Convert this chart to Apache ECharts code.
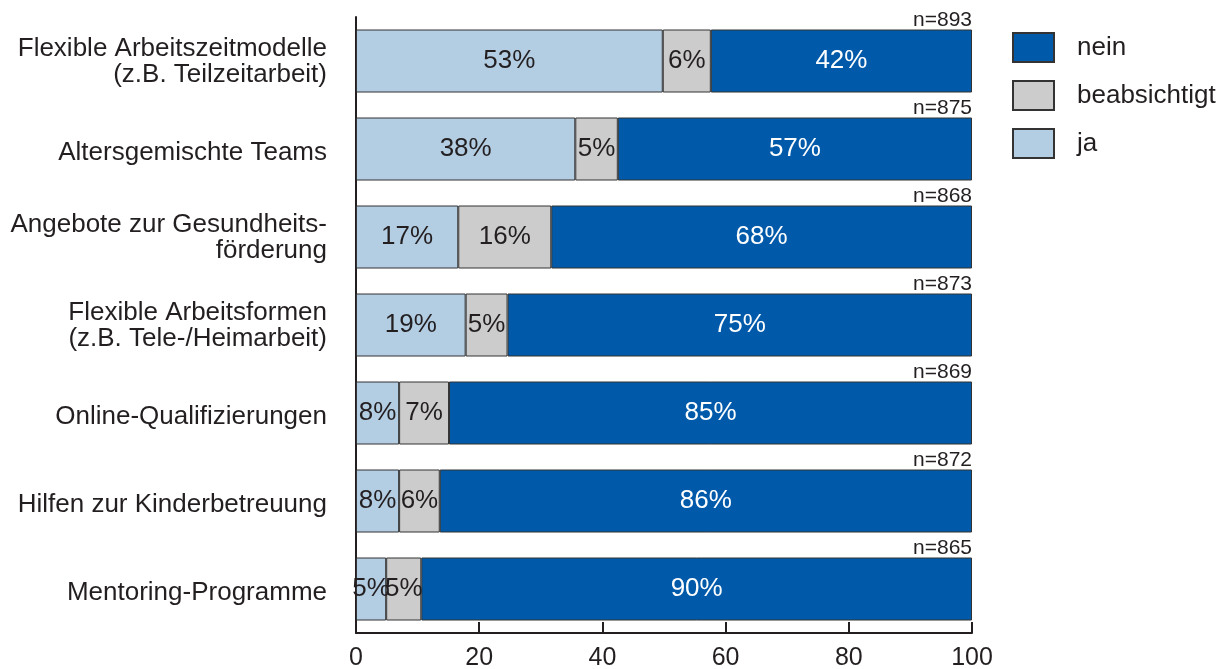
<!DOCTYPE html>
<html>
<head>
<meta charset="utf-8">
<script src="https://cdn.jsdelivr.net/npm/echarts@6/dist/echarts.min.js"></script>
<style>html,body{margin:0;padding:0;background:#fff}#c{width:1223px;height:669px}</style>
</head>
<body>
<div id="c"></div>
<script>
const categories = [
  'Flexible Arbeitszeitmodelle\n(z.B. Teilzeitarbeit)',
  'Altersgemischte Teams',
  'Angebote zur Gesundheits-\nförderung',
  'Flexible Arbeitsformen\n(z.B. Tele-/Heimarbeit)',
  'Online-Qualifizierungen',
  'Hilfen zur Kinderbetreuung',
  'Mentoring-Programme'
];
// segment widths as drawn (percent of bar)
const jaValues   = [49.8, 35.6, 16.6, 17.8, 7.0, 7.0, 4.9];
const beabValues = [7.8, 6.9, 15.1, 6.8, 8.1, 6.6, 5.7];
const neinValues = [42.4, 57.5, 68.3, 75.4, 84.9, 86.4, 89.4];
// printed percentages
const jaLabels   = [53, 38, 17, 19, 8, 8, 5];
const beabLabels = [6, 5, 16, 5, 7, 6, 5];
const neinLabels = [42, 57, 68, 75, 85, 86, 90];
const nValues = [893, 875, 868, 873, 869, 872, 865];
const xTicks = [0, 20, 40, 60, 80, 100];

const FONT = '"Liberation Sans", Arial, sans-serif';
const TXT = '#231f20';
const chart = echarts.init(document.getElementById('c'), null, {renderer: 'canvas'});

const totals = jaValues.map((v, i) => v + beabValues[i] + neinValues[i]);

function seg(name, vals, labels, color, labelColor) {
  return {
    name: name, type: 'bar', stack: 'all', barWidth: 63,
    data: vals,
    itemStyle: {color: color, borderColor: '#333333', borderWidth: 1},
    label: {
      show: true, position: 'inside', color: labelColor,
      fontFamily: FONT, fontSize: 26, offset: [0, 2],
      formatter: p => labels[p.dataIndex] + '%'
    },
    labelLayout: {hideOverlap: false},
    emphasis: {disabled: true},
    silent: true
  };
}

chart.setOption({
  animation: false,
  backgroundColor: '#ffffff',
  grid: {left: 356, right: 251, top: 17, bottom: 36, containLabel: false, outerBoundsMode: 'none'},
  legend: {
    orient: 'vertical', left: 1007, top: 27,
    icon: 'rect',
    itemWidth: 41, itemHeight: 29, itemGap: 17,
    data: ['nein', 'beabsichtigt', 'ja'],
    textStyle: {fontFamily: FONT, fontSize: 26, color: TXT, padding: [0, 0, 0, 18]},
    selectedMode: false
  },
  xAxis: {
    type: 'value', min: 0, max: 100, interval: 20,
    axisLine: {show: true, lineStyle: {color: TXT, width: 2}},
    axisTick: {show: true, inside: true, length: 11, lineStyle: {color: TXT, width: 2}},
    splitLine: {show: false},
    axisLabel: {fontFamily: FONT, fontSize: 25, color: TXT, margin: 13,
      formatter: v => xTicks.includes(v) ? String(v) : ''}
  },
  yAxis: {
    type: 'category', data: categories, inverse: true,
    axisLine: {show: true, lineStyle: {color: TXT, width: 2}},
    axisTick: {show: false},
    axisLabel: {
      color: TXT, margin: 29, align: 'right',
      formatter: v => v.split('\n').map((l, i) => (i === 0 ? '{f|' : '{a|') + l + '}').join('\n'),
      rich: {
        f: {fontFamily: FONT, fontSize: 26, color: TXT, lineHeight: 27, padding: [8, 0, 0, 0], align: 'right'},
        a: {fontFamily: FONT, fontSize: 26, color: TXT, lineHeight: 33, align: 'right'}
      }
    }
  },
  series: [
    seg('ja', jaValues, jaLabels, '#b3cde3', TXT),
    seg('beabsichtigt', beabValues, beabLabels, '#cccccc', TXT),
    seg('nein', neinValues, neinLabels, '#005aa9', '#ffffff'),
    {
      name: 'n', type: 'bar', barWidth: 63, barGap: '-100%',
      data: totals,
      itemStyle: {color: 'rgba(0,0,0,0)', borderWidth: 0},
      label: {
        show: true, position: ['100%', 0], align: 'right', verticalAlign: 'bottom',
        distance: 0, offset: [0, 1],
        fontFamily: FONT, fontSize: 21, color: TXT,
        formatter: p => 'n=' + nValues[p.dataIndex]
      },
      silent: true, z: 1
    }
  ]
});
</script>
</body>
</html>
